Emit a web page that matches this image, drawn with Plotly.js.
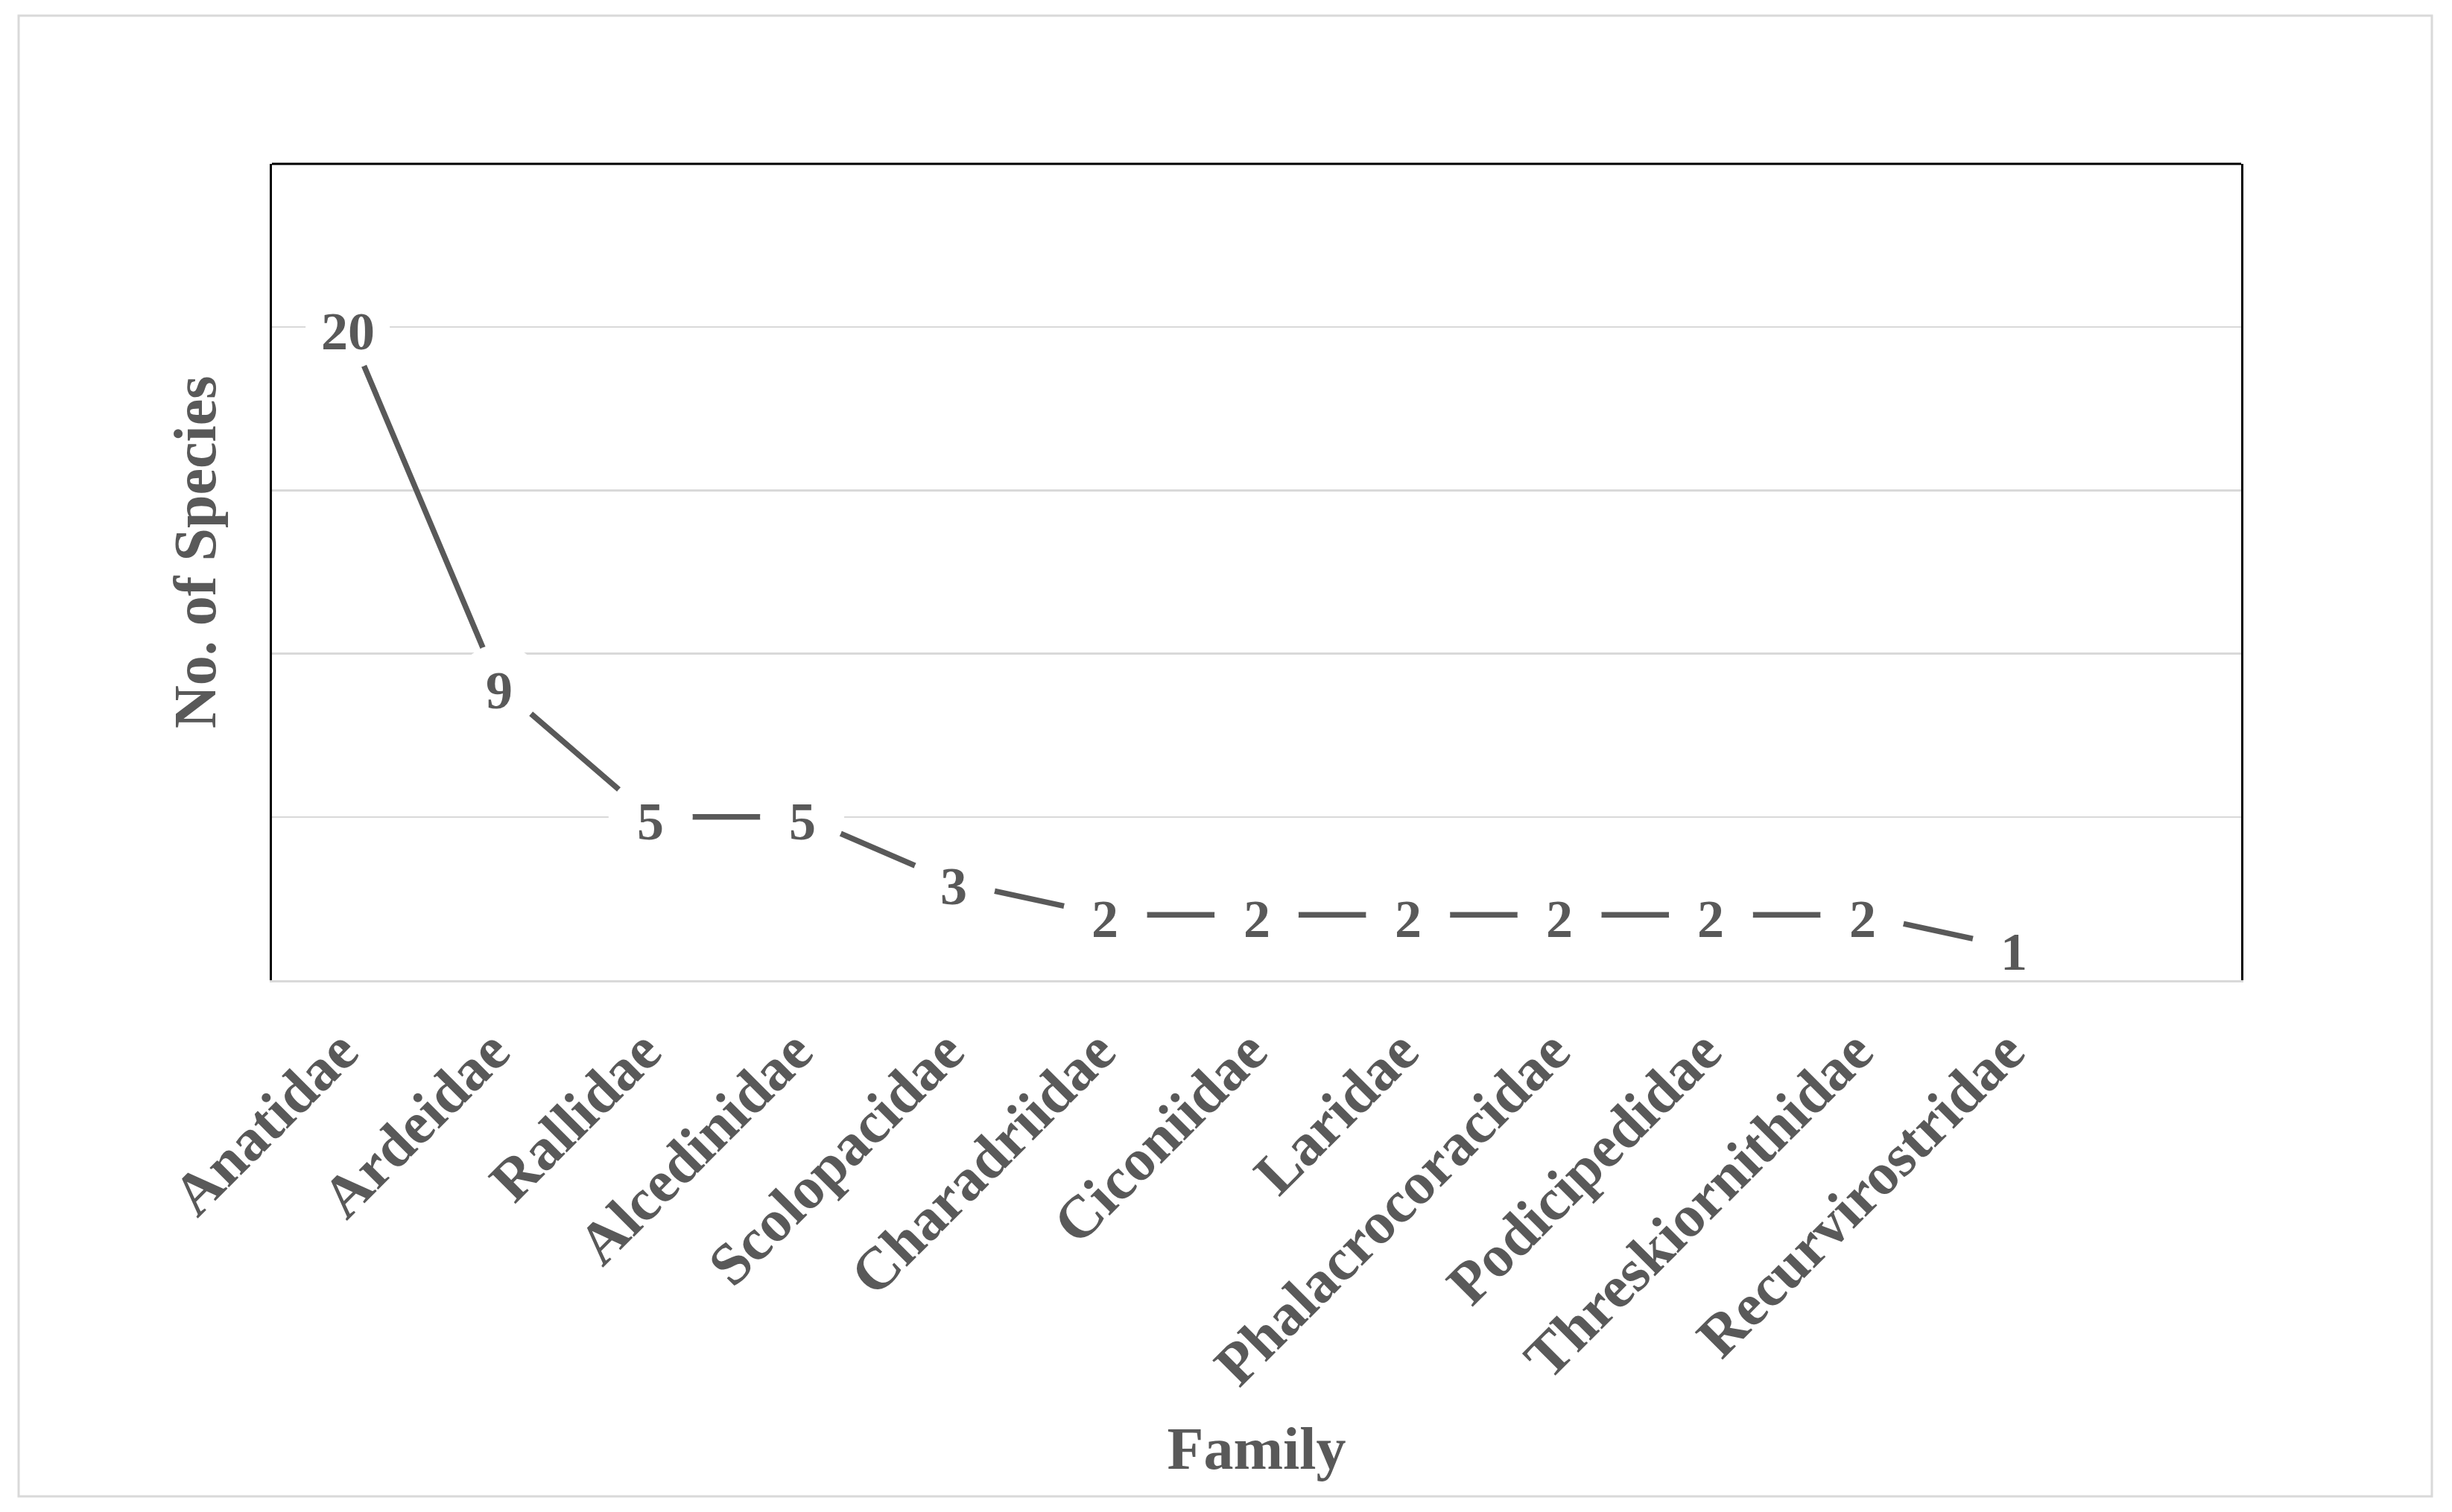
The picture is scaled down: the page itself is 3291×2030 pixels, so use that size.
<!DOCTYPE html>
<html>
<head>
<meta charset="utf-8">
<script src="https://cdn.plot.ly/plotly-3.0.1.min.js"></script>
<style>
  html, body { margin: 0; padding: 0; background: #ffffff; }
  #chart { width: 3291px; height: 2030px; }
</style>
</head>
<body>
<div id="chart"></div>
<script>
// ---- data ----
const families = ["Anatidae", "Ardeidae", "Rallidae", "Alcedinidae", "Scolopacidae",
  "Charadriidae", "Ciconiidae", "Laridae", "Phalacrocoracidae", "Podicipedidae",
  "Threskiornithidae", "Recurvirostridae"];
const speciesCount = [20, 9, 5, 5, 3, 2, 2, 2, 2, 2, 2, 1];
const xAxisTitle = "Family";
const yAxisTitle = "No. of Species";

const W = 3291, H = 2030;
const margin = { l: 365, r: 283, t: 220, b: 714 };
const plotW = W - margin.l - margin.r;
const plotH = H - margin.t - margin.b;
const textColor = "#595959";
const serif = "Liberation Serif, Times New Roman, serif";

// outer chart border in paper units
const bx0 = (25 - margin.l) / plotW, bx1 = (3264 - margin.l) / plotW;
const by0 = (margin.t + plotH - 2009) / plotH, by1 = (margin.t + plotH - 21) / plotH;

const trace = {
  type: "scatter",
  mode: "lines+markers",
  x: families,
  y: speciesCount,
  line: { color: "#595959", width: 7.5 },
  marker: { symbol: "circle", size: 113, color: "#ffffff", line: { width: 0 } },
  hoverinfo: "skip",
  showlegend: false
};

// data labels centred on each point
const labelAnnotations = families.map((f, i) => ({
  x: f, y: speciesCount[i], xref: "x", yref: "y",
  text: String(speciesCount[i]),
  showarrow: false, yshift: -6,
  font: { family: serif, size: 72, color: textColor, weight: "bold" }
}));

const yTitleAnnotation = {
  xref: "paper", yref: "paper",
  x: (262 - margin.l) / plotW, y: (margin.t + plotH - 742) / plotH,
  xanchor: "center", yanchor: "middle",
  text: yAxisTitle, textangle: -90, showarrow: false,
  font: { family: serif, size: 80, color: textColor, weight: "bold" }
};

const layout = {
  width: W, height: H,
  margin: margin,
  paper_bgcolor: "#ffffff",
  plot_bgcolor: "#ffffff",
  showlegend: false,
  font: { family: serif, color: textColor },
  xaxis: {
    type: "category",
    categoryorder: "array",
    categoryarray: families,
    range: [-0.5, 12.5],
    showgrid: false,
    zeroline: false,
    showline: true,
    linecolor: "#d9d9d9",
    linewidth: 3,
    layer: "below traces",
    ticks: "",
    tickangle: -45,
    ticklabelstandoff: 13,
    ticklabelshift: -10,
    tickfont: { family: serif, size: 80, color: textColor, weight: "bold" },
    title: { text: xAxisTitle, font: { family: serif, size: 80, color: textColor, weight: "bold" }, standoff: 41 },
    fixedrange: true
  },
  yaxis: {
    range: [0, 25],
    dtick: 5,
    tick0: 0,
    showgrid: true,
    gridcolor: "#d9d9d9",
    gridwidth: 2.5,
    zeroline: false,
    showline: true,
    mirror: true,
    linecolor: "#000000",
    linewidth: 3,
    showticklabels: false,
    ticks: "",
    fixedrange: true
  },
  annotations: labelAnnotations.concat([yTitleAnnotation]),
  shapes: [
    { type: "line", xref: "paper", yref: "paper", x0: 0, x1: 1, y0: 1, y1: 1,
      line: { color: "#000000", width: 3 } },
    { type: "rect", xref: "paper", yref: "paper", x0: bx0, x1: bx1, y0: by0, y1: by1,
      line: { color: "#d9d9d9", width: 3 }, fillcolor: "rgba(0,0,0,0)", layer: "below" }
  ]
};

Plotly.newPlot("chart", [trace], layout, { staticPlot: true, displayModeBar: false });
</script>
</body>
</html>
